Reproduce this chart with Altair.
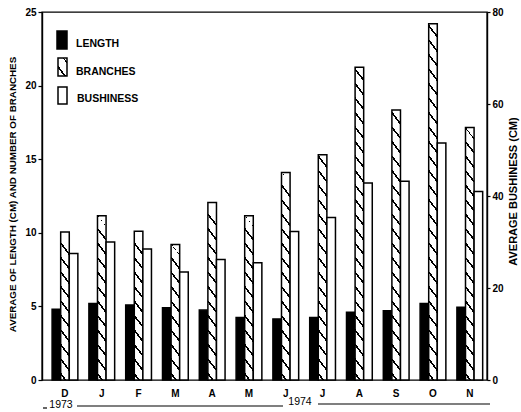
import altair as alt
import pandas as pd

# Monthly averages, Dec 1973 - Nov 1974
months = ["D", "J", "F", "M", "A", "M", "J", "J", "A", "S", "O", "N"]
length_cm = [4.8, 5.2, 5.1, 4.9, 4.75, 4.25, 4.15, 4.25, 4.6, 4.7, 5.2, 4.95]
branches = [10.05, 11.15, 10.1, 9.2, 12.05, 11.15, 14.1, 15.3, 21.25, 18.35, 24.2, 17.15]
bushiness_cm = [27.5, 30.0, 28.5, 23.5, 26.2, 25.5, 32.3, 35.3, 42.8, 43.2, 51.5, 41.0]
series = ["LENGTH", "BRANCHES", "BUSHINESS"]

W, H = 445, 368
LEFT_MAX, RIGHT_MAX = 25, 80
FONT = "Liberation Sans"
STROKE_W = 1.5

rows = []
for i in range(len(months)):
    rows.append({"idx": i, "series": "LENGTH", "value": length_cm[i]})
    rows.append({"idx": i, "series": "BRANCHES", "value": branches[i]})
    rows.append({"idx": i, "series": "BUSHINESS", "value": bushiness_cm[i]})
df = pd.DataFrame(rows)

# band geometry (used to size the hatch pattern of each bar)
PI, PO, ALIGN = 0.3, 0.196, 0.7
step = W / (len(months) - PI + 2 * PO)
bar_w = step * (1 - PI) / 3


def hatch(w, h, slope=1.3, period=14.5, thick=2.6, phase=0.35):
    """Diagonal '\\' stripes as a hard-stop linear gradient over a w x h box."""
    dx = slope * w / h
    k = 1 + dx * dx
    T = period / (h * k)
    wt = thick / (h * k)
    stops = [alt.GradientStop(offset=0, color="white")]
    j = 0
    while True:
        s = (j + phase) * T
        if s >= 1:
            break
        e = min(s + wt, 1.0)
        stops += [
            alt.GradientStop(offset=s, color="white"),
            alt.GradientStop(offset=s, color="black"),
            alt.GradientStop(offset=e, color="black"),
            alt.GradientStop(offset=e, color="white"),
        ]
        j += 1
    stops.append(alt.GradientStop(offset=1, color="white"))
    return alt.LinearGradient(gradient="linear", x1=0, y1=1, x2=dx, y2=0, stops=stops)


label_expr = "[" + ",".join(f"'{m}'" for m in months) + "][datum.value]"
x_scale = alt.Scale(domain=list(range(len(months))), paddingInner=PI,
                    paddingOuter=PO, align=ALIGN)
xo_scale = alt.Scale(domain=series, paddingInner=0, paddingOuter=0)
left_scale = alt.Scale(domain=[0, LEFT_MAX], nice=False)
right_scale = alt.Scale(domain=[0, RIGHT_MAX], nice=False)

x_axis = alt.Axis(title=None, labelExpr=label_expr, labelAngle=0, ticks=False,
                  labelPadding=8, domain=False)
left_axis = alt.Axis(title="AVERAGE OF LENGTH (CM) AND NUMBER OF BRANCHES",
                     values=[0, 5, 10, 15, 20, 25], tickSize=4, labelPadding=2,
                     titleAngle=270, titleX=-30, titleY=182, titleAlign="center",
                     titleBaseline="middle", titleFontSize=9.8, grid=False)
right_axis = alt.Axis(title="AVERAGE BUSHINESS (CM)", orient="right",
                      values=[0, 20, 40, 60, 80], tickSize=3, labelPadding=2,
                      titleAngle=270, titleX=26, titleY=179, titleAlign="center",
                      titleBaseline="middle", titleFontSize=11, grid=False)

base = alt.Chart(df)


def enc(scale=left_scale, axis=left_axis):
    return dict(
        x=alt.X("idx:O", scale=x_scale, axis=x_axis),
        xOffset=alt.XOffset("series:N", scale=xo_scale),
        y=alt.Y("value:Q", scale=scale, axis=axis),
    )


length_layer = base.transform_filter(alt.datum.series == "LENGTH").mark_bar(
    fill="black", stroke="black", strokeWidth=STROKE_W
).encode(**enc())

branch_layers = []
for i, v in enumerate(branches):
    h_px = v / LEFT_MAX * H
    branch_layers.append(
        base.transform_filter(
            (alt.datum.series == "BRANCHES") & (alt.datum.idx == i)
        ).mark_bar(fill=hatch(bar_w, h_px), stroke="black", strokeWidth=STROKE_W)
        .encode(**enc())
    )

bush_layer = base.transform_filter(alt.datum.series == "BUSHINESS").mark_bar(
    fill="white", stroke="black", strokeWidth=STROKE_W
).encode(**enc(scale=right_scale, axis=right_axis))

# key in the upper-left corner
one = pd.DataFrame({"k": [0]})


def box(x0, x1, y0, y1, fill):
    return alt.Chart(one).mark_rect(fill=fill, stroke="black", strokeWidth=STROKE_W).encode(
        x=alt.value(x0), x2=alt.value(x1), y=alt.value(y0), y2=alt.value(y1))


def label(x, y, text, align="left", weight="bold", size=10):
    return alt.Chart(one).mark_text(
        text=text, align=align, baseline="middle", font=FONT,
        fontWeight=weight, fontSize=size, color="black"
    ).encode(x=alt.value(x), y=alt.value(y))


def hline(x0, x1, y):
    return alt.Chart(one).mark_rule(color="black", strokeWidth=1.2).encode(
        x=alt.value(x0), x2=alt.value(x1), y=alt.value(y))


key = [
    box(15, 25, 19, 37, "black"),
    box(16, 25, 46, 64, hatch(9, 18, period=16, phase=0.5)),
    box(16, 25, 75, 92, "white"),
    label(34, 32, series[0], size=10.5),
    label(34, 60, series[1], size=10.5),
    label(35, 87, series[2], size=10.5),
]

# year strip under the month labels
years = [
    hline(1, 5, 396),
    label(19, 393, "1973", align="center", weight="normal", size=10.5),
    hline(35, 241, 394),
    label(258, 390, "1974", align="center", weight="normal", size=10.5),
    hline(276, 448, 392),
]

left_group = alt.layer(length_layer, *branch_layers, *key, *years)

chart = alt.layer(left_group, bush_layer).resolve_scale(y="independent").properties(
    width=W, height=H,
    autosize=alt.AutoSizeParams(type="none"),
    padding={"left": 42, "top": 12, "right": 34, "bottom": 32},
    background="white",
).configure_view(
    stroke="black", strokeWidth=1.4
).configure_axis(
    domainColor="black", domainWidth=1.4, tickColor="black", tickWidth=1.2,
    labelFont=FONT, labelFontWeight="bold", labelFontSize=10, labelColor="black",
    titleFont=FONT, titleFontWeight="bold", titleFontSize=10, titleColor="black",
)

chart.save("out.html", embed_options={"renderer": "svg", "actions": False})
